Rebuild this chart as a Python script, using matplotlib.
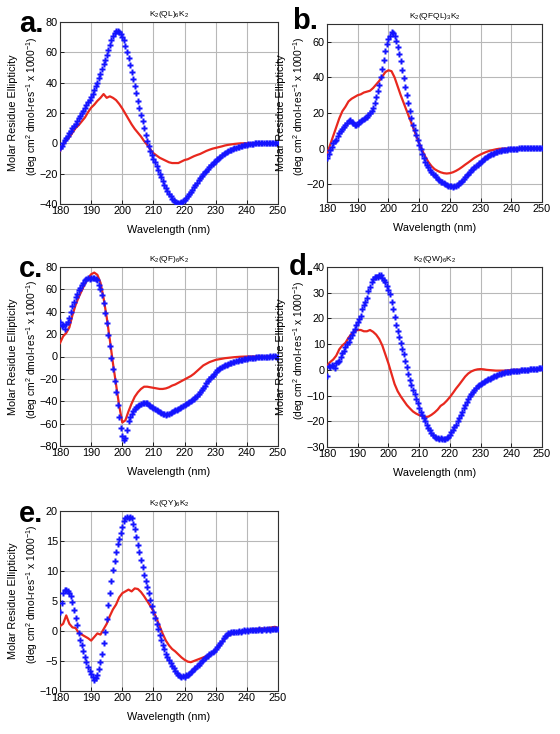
import numpy as np
import matplotlib
matplotlib.use("Agg")
import matplotlib.pyplot as plt

plt.rcParams['font.family'] = ['Liberation Sans', 'DejaVu Sans']
plt.rcParams['mathtext.fontset'] = 'custom'
plt.rcParams['mathtext.rm'] = 'Liberation Sans'
plt.rcParams['mathtext.it'] = 'Liberation Sans:italic'
plt.rcParams['mathtext.bf'] = 'Liberation Sans:bold'

# ---------------- data ----------------
wl_blue = np.arange(180, 250.01, 0.5)
wl_red = np.arange(180, 251, 1.0)

titles = [r'K$_2$(QL)$_6$K$_2$', r'K$_2$(QFQL)$_3$K$_2$', r'K$_2$(QF)$_6$K$_2$',
          r'K$_2$(QW)$_6$K$_2$', r'K$_2$(QY)$_6$K$_2$']
letters = ['a.', 'b.', 'c.', 'd.', 'e.']
x_ticks = [180, 190, 200, 210, 220, 230, 240, 250]
y_lims = [(-40, 80), (-30, 70), (-80, 80), (-30, 40), (-10, 20)]
y_ticks = [list(range(-40, 81, 20)), list(range(-20, 61, 20)), list(range(-80, 81, 20)),
           list(range(-30, 41, 10)), list(range(-10, 21, 5))]

blue_a = [-3, -1.5, 0.5, 2, 3.5, 5, 6.5, 8.3, 10, 11.5,
          13, 14.8, 16.5, 18.3, 20, 21.5, 23, 25, 27, 28.8,
          30.5, 32.8, 35, 37.5, 40, 43, 46, 49, 52, 55,
          58, 61.5, 65, 68, 71, 73, 74, 74, 73.5, 72,
          70, 68, 64, 60, 56, 51.5, 47, 42.5, 38, 33,
          28, 23.5, 19, 14.5, 10, 5.5, 1.5, -2, -5, -7.5,
          -10, -12.5, -15, -17.5, -20, -22.5, -25, -27.3, -29.5, -31.5,
          -33.5, -35, -36.5, -37.5, -38.5, -39.2, -39.5, -39.4, -39, -38.3,
          -37.5, -36.3, -35, -33.5, -32, -30.5, -29, -27.5, -26, -24.5,
          -23, -21.8, -20.5, -19.2, -18, -16.8, -15.5, -14.5, -13.5, -12.5,
          -11.5, -10.5, -9.5, -8.7, -8, -7.2, -6.5, -5.8, -5.2, -4.7,
          -4.2, -3.7, -3.3, -2.9, -2.5, -2.2, -1.9, -1.6, -1.3, -1,
          -0.8, -0.6, -0.5, -0.3, -0.2, -0.1, 0, 0.1, 0.2, 0.3,
          0.3, 0.3, 0.3, 0.3, 0.2, 0.2, 0.2, 0.1, 0.1, 0,
          0]
red_a = [-5, -1, 2, 4, 7, 10, 12, 14.5, 17, 20.5,
         23.5, 25.5, 28, 30, 32.5, 30, 31, 30, 28.5, 26,
         23, 19.5, 16, 12.5, 9.5, 7, 4.5, 1.5, -1, -4,
         -6.5, -8, -9.5, -10.5, -11.5, -12.5, -13, -13, -13, -12,
         -11, -10.5, -9.5, -8.5, -7.7, -7, -6, -5, -4.2, -3.5,
         -3, -2.5, -2, -1.4, -1, -0.7, -0.4, -0.2, 0, 0,
         0, 0, 0, 0.1, 0.1, 0, 0, 0, 0, 0,
         0]

blue_b = [-5, -3, -1, 1, 3, 4, 5, 7, 9, 10,
          11, 12, 13.5, 14.5, 15.5, 15.8, 15, 14.5, 13.5, 13.2,
          14, 15, 15.5, 16, 16.5, 17.3, 18, 19, 20, 21.3,
          23, 25.8, 29, 32.5, 36, 40.5, 45, 50, 55, 58.5,
          61.5, 63.5, 65.5, 65, 63.5, 60.5, 57, 53, 49, 44,
          39.5, 34.5, 30, 25.5, 21, 17, 13.5, 10.5, 7.5, 4.8,
          2, -0.5, -2.8, -5.2, -7.5, -9, -10.5, -11.8, -13, -14,
          -15, -16, -17, -17.8, -18.5, -19, -19.5, -20, -20.5, -20.8,
          -21, -21.2, -21.3, -21.1, -20.8, -20.2, -19.5, -18.8, -18, -17,
          -16, -15, -14, -13.2, -12.3, -11.4, -10.5, -9.8, -9, -8.2,
          -7.5, -6.7, -6, -5.4, -4.8, -4.3, -3.8, -3.3, -2.9, -2.5,
          -2.1, -1.8, -1.5, -1.2, -1, -0.8, -0.7, -0.6, -0.5, -0.4,
          -0.3, -0.2, -0.1, -0.1, 0, 0.1, 0.2, 0.2, 0.3, 0.4,
          0.4, 0.5, 0.6, 0.6, 0.6, 0.5, 0.4, 0.5, 0.5, 0.4,
          0.3]
red_b = [-3, 2, 7, 12, 17, 21, 23.5, 26.5, 28, 29,
         30, 30.5, 31.5, 32, 32.5, 34, 36, 38, 40.5, 43,
         44, 43.5, 40, 35, 30, 25.5, 21, 16.5, 12, 7.5,
         3, -1, -4.5, -7.5, -9.8, -11.5, -12.5, -13.3, -13.8, -14,
         -13.8, -13.3, -12.5, -11.5, -10.3, -9, -7.8, -6.5, -5.2, -4.2,
         -3.3, -2.5, -1.8, -1.2, -0.8, -0.4, -0.1, 0, 0, 0,
         0, 0, 0, 0, 0, 0, 0, 0, 0, 0,
         0]

blue_c = [31, 27, 28, 25, 29, 31, 34, 40, 45, 49,
          53, 56, 59, 61.5, 63.5, 65.5, 68, 69.5, 70, 69,
          70, 70.5, 70, 69.5, 68, 64, 60, 55, 48, 39,
          30, 19, 9, -1, -11, -22, -32, -43, -54, -64,
          -71, -75, -73, -66, -58, -54, -51, -49, -47, -45.5,
          -44.5, -43.5, -42.5, -42, -41.5, -41.5, -42, -43, -44, -45,
          -46, -47, -48, -49, -50, -50.5, -51, -51.5, -52, -51.5,
          -51, -50.5, -49.5, -49, -48, -47.5, -46.5, -46, -45, -44.5,
          -43.5, -42.5, -42, -41, -40, -39, -38, -36.5, -35, -33.5,
          -32, -30, -28, -26, -24, -22, -20, -18.5, -17, -15.5,
          -14, -12.5, -11.5, -10.5, -9.5, -8.5, -8, -7.3, -6.7, -6,
          -5.5, -5, -4.5, -4, -3.7, -3.3, -3, -2.7, -2.4, -2.1,
          -1.9, -1.7, -1.5, -1.3, -1.1, -0.9, -0.8, -0.6, -0.5, -0.3,
          -0.3, -0.2, -0.1, 0, 0, 0.1, 0, 0.1, 0.1, 0,
          0]
red_c = [12, 18, 21, 26, 37, 46, 53, 59, 65, 70,
         73.5, 75, 73, 66, 52, 35, 15, -6, -25, -44,
         -59, -57, -49, -42, -36, -32, -29, -27, -27, -27.5,
         -28, -28.5, -29, -29, -28.5, -27.5, -26, -25, -23.5, -22,
         -20.5, -19, -17.5, -15.5, -13, -10.5, -8, -6.5, -5, -4,
         -3, -2.5, -2, -1.5, -1.2, -0.9, -0.6, -0.4, -0.2, -0.1,
         0, 0, 0, 0, 0, 0, 0, 0, 0, 0,
         0]

blue_d = [-2.2, 1.5, 1, 2, 1.5, 0.8, 2.5, 3.2, 3.5, 5,
          6.5, 7.5, 8.8, 10, 11, 12.3, 13.5, 14.8, 16, 17.3,
          18.5, 19.8, 21, 23.5, 25.2, 26.5, 28, 30.5, 32.3, 34,
          35.5, 36, 36.3, 36.2, 36.8, 36.7, 35.8, 35, 34, 32.6,
          31, 29.5, 26.5, 23.5, 20.5, 17.5, 15, 12.8, 10.5, 8.2,
          6, 3.5, 1, -1.5, -3.8, -5.8, -7.7, -9.5, -11.2, -13,
          -14.8, -16.3, -17.5, -18.7, -20, -21.5, -22.6, -23.5, -24.5, -25.3,
          -26, -26.4, -26.6, -26.7, -26.6, -26.8, -26.7, -26.8, -26.6, -26.2,
          -25.2, -24.3, -23.4, -22.4, -21.3, -20, -18.8, -17.5, -16.2, -15,
          -13.7, -12.5, -11.4, -10.3, -9.4, -8.6, -7.8, -7, -6.4, -5.9,
          -5.4, -5, -4.6, -4.3, -4, -3.7, -3.4, -3.1, -2.8, -2.5,
          -2.2, -2, -1.8, -1.6, -1.4, -1.2, -1, -0.9, -0.8, -0.7,
          -0.6, -0.5, -0.4, -0.4, -0.3, -0.3, -0.2, -0.1, -0.1, 0,
          0, 0.1, 0.2, 0.3, 0.4, 0.4, 0.5, 0.5, 0.6, 0.6,
          0.6]
red_d = [1.5, 3, 4, 5.5, 8, 9.5, 10.5, 12.5, 14, 15,
         15.5, 15.5, 15, 15, 15.5, 14.8, 13.7, 12, 9.5, 6,
         2.5, -1.5, -5.5, -8.3, -10.3, -12, -13.7, -15, -16.2, -17,
         -17.6, -18, -18.3, -18.2, -17.5, -16.6, -15.5, -14, -13.2, -12,
         -10.6, -9, -7.3, -5.8, -4.2, -2.6, -1.4, -0.6, -0.1, 0.2,
         0.3, 0.2, 0, -0.1, -0.2, -0.3, -0.3, -0.3, -0.3, -0.2,
         -0.1, 0, 0, 0, 0, 0, 0, 0, 0, 0,
         0]

blue_e = [3.2, 4.6, 6.3, 6.8, 6.9, 6.7, 6.4, 5.8, 4.8, 3.5,
          2.2, 1.0, -0.4, -1.5, -2.4, -3.4, -4.4, -5.2, -6.0, -6.7,
          -7.2, -7.7, -8.1, -7.9, -7.3, -6.3, -5.2, -3.9, -2.0, -0.1,
          2.0, 4.3, 6.4, 8.4, 10.1, 11.6, 13.2, 14.5, 15.4, 16.3,
          17.3, 18.3, 18.9, 19.0, 18.8, 19.0, 18.8, 17.9, 17.0, 15.7,
          14.3, 13.1, 11.8, 10.6, 9.4, 8.4, 7.4, 6.4, 5.2, 4.1,
          3.2, 2.1, 1.2, 0.3, -0.6, -1.5, -2.3, -3.0, -3.8, -4.4,
          -4.9, -5.3, -5.8, -6.2, -6.6, -7.0, -7.3, -7.5, -7.6, -7.5,
          -7.6, -7.4, -7.3, -7.1, -6.9, -6.7, -6.4, -6.1, -5.9, -5.6,
          -5.3, -5.0, -4.8, -4.5, -4.3, -4.1, -3.9, -3.7, -3.5, -3.3,
          -3.0, -2.7, -2.4, -2.0, -1.6, -1.2, -0.9, -0.6, -0.4, -0.3,
          -0.2, -0.2, -0.1, -0.2, -0.1, 0.0, -0.1, 0.0, 0.1, 0.0,
          0.1, 0.0, 0.1, 0.2, 0.1, 0.2, 0.1, 0.2, 0.3, 0.2,
          0.2, 0.3, 0.2, 0.3, 0.3, 0.2, 0.3, 0.3, 0.4, 0.3,
          0.3]
red_e = [0.8, 1.2, 2.6, 1.2, 0.6, 0.5, -0.3, -0.6, -0.9, -1.2,
         -1.6, -1.0, -0.4, -0.6, 0.3, 1.2, 2.5, 3.6, 4.4, 5.6,
         6.3, 6.6, 6.9, 6.6, 7.1, 7.0, 6.5, 5.8, 5.0, 4.2,
         3.3, 2.1, 0.8, -0.5, -1.6, -2.4, -3.0, -3.4, -3.9, -4.4,
         -4.8, -5.1, -5.2, -5.0, -4.8, -4.6, -4.4, -4.2, -4.0, -3.6,
         -3.1, -2.5, -1.9, -1.2, -0.7, -0.5, -0.3, -0.2, -0.1, 0.0,
         0.1, 0.2, 0.3, 0.3, 0.4, 0.4, 0.4, 0.5, 0.6, 0.7,
         0.5]

blues = [blue_a, blue_b, blue_c, blue_d, blue_e]
reds = [red_a, red_b, red_c, red_d, red_e]

# ---------------- layout (pixels: left, right, top, bottom) ----------------
W, H = 560, 734
boxes = [(60, 278, 22, 204), (327, 542, 24, 202), (60, 278, 267, 446),
         (327, 542, 267, 447), (60, 278, 511, 691)]
letter_pos = [(19, 24), (292, 21), (19, 269), (289, 267), (19, 514)]

fig = plt.figure(figsize=(W / 100, H / 100), dpi=100)
fig.patch.set_facecolor('white')

ylabel1 = 'Molar Residue Ellipticity'
ylabel2 = '(deg cm$^2$ dmol-res$^{-1}$ x 1000$^{-1}$)'
lab_fs = 7.8

for i in range(5):
    l, r, t, b = boxes[i]
    wpx, hpx = r - l, b - t
    ax = fig.add_axes([l / W, 1 - b / H, wpx / W, hpx / H])
    ax.plot(wl_red, reds[i], color='#e8281e', lw=1.6, zorder=3)
    ax.plot(wl_blue, blues[i], linestyle='none', marker='P', ms=3.8,
            mec='none', mfc='#1414ff', zorder=4)
    ax.set_xlim(180, 250)
    ax.set_ylim(*y_lims[i])
    ax.set_xticks(x_ticks)
    ax.set_yticks(y_ticks[i])
    ax.grid(True, color='#b8b8b8', lw=0.8)
    ax.set_axisbelow(True)
    ax.tick_params(direction='in', length=3, width=0.6, labelsize=7.8, pad=1.5, colors='black')
    for s in ax.spines.values():
        s.set_color('#303030')
        s.set_linewidth(0.8)
    ax.set_title(titles[i], fontsize=6, pad=4)
    ax.set_xlabel('Wavelength (nm)', fontsize=lab_fs)
    ax.xaxis.set_label_coords(0.5, -26 / hpx)
    ax.xaxis.label.set_verticalalignment('center')
    ax.set_ylabel(ylabel1, fontsize=lab_fs)
    ax.yaxis.set_label_coords(-46.5 / wpx, 0.5)
    ax.yaxis.label.set_verticalalignment('center')
    ax.text(-27.5 / wpx, 0.5 + 7 / hpx, ylabel2, transform=ax.transAxes,
            rotation=90, ha='center', va='center', fontsize=7.4,
            rotation_mode='anchor')
    fig.text(letter_pos[i][0] / W, 1 - letter_pos[i][1] / H, letters[i],
             fontsize=21, fontweight='bold', ha='left', va='center')

fig.savefig('out.png', dpi=100, facecolor='white')
